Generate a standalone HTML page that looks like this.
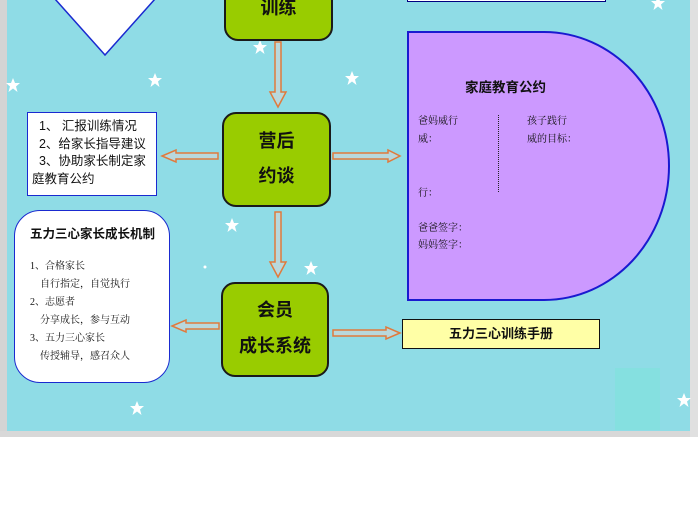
<!DOCTYPE html>
<html><head><meta charset="utf-8"><style>
body{margin:0;width:698px;height:508px;overflow:hidden;background:#fff;font-family:"Liberation Sans","Noto Sans CJK SC",sans-serif;position:relative}
.pg{position:absolute;left:7px;top:0;width:683px;height:431px;background:#8fdce6}
.gl{position:absolute;left:0;top:0;width:7px;height:437px;background:#d4d4d4}
.gb{position:absolute;left:0;top:431px;width:698px;height:6px;background:#d8d8d8}
.gr{position:absolute;left:690px;top:0;width:8px;height:437px;background:#e0e0e0}
.a{position:absolute}
.g{position:absolute;background:#99cc00;border:2px solid #1a1a1a;border-radius:14px;box-sizing:border-box;text-align:center;font-size:18px;color:#111;font-weight:600}
</style></head><body>
<div class="pg"></div><div class="gl"></div><div class="gb"></div><div class="gr"></div>
<svg class="a" style="left:0;top:0" width="698" height="508">
<defs><polygon id="st" points="0,-7 2,-2 7,-2 3,1.5 4.5,7 0,3.5 -4.5,7 -3,1.5 -7,-2 -2,-2" fill="#fff"/></defs>
<use href="#st" x="13" y="85"/><use href="#st" x="155" y="80"/><use href="#st" x="260" y="47"/><use href="#st" x="352" y="78"/>
<use href="#st" x="232" y="225"/><use href="#st" x="311" y="268"/><use href="#st" x="137" y="408"/><use href="#st" x="658" y="3"/><use href="#st" x="684" y="400"/>
<circle cx="205" cy="267" r="1.5" fill="#fff"/>
<rect x="615" y="368" width="45" height="62" fill="#85e0e0"/>
<polygon points="55,-1 155,-1 105,55" fill="#fff" stroke="#1a2ad0" stroke-width="1.5"/>
<g fill="#b8d8dc" stroke="#e07a3c" stroke-width="1.5">
<polygon points="275,42 281,42 281,92 286,92 278,107 270,92 275,92"/>
<polygon points="275,212 281,212 281,262 286,262 278,277 270,262 275,262"/>
<polygon points="218,153 218,159 176,159 176,162 162,156 176,150 176,153"/>
<polygon points="219,323 219,329 186,329 186,332 172,326 186,320 186,323"/>
<polygon points="333,153 333,159 388,159 388,162 400,156 388,150 388,153"/>
<polygon points="333,330 333,336 386,336 386,339 400,333 386,327 386,330"/>
</g>
</svg>
<div class="a" style="left:407px;top:-2px;width:197px;height:3px;border:1.5px solid #000080;border-top:none;background:#fff"></div>
<div class="g" style="left:224px;top:-20px;width:109px;height:61px;padding-top:12px">训练</div>
<div class="g" style="left:222px;top:112px;width:109px;height:95px;padding-top:10px;line-height:35px">营后<br>约谈</div>
<div class="g" style="left:221px;top:282px;width:108px;height:95px;padding-top:8px;line-height:36px">会员<br>成长系统</div>
<div class="a" style="left:27px;top:112px;width:130px;height:84px;box-sizing:border-box;border:1.5px solid #1a2ad0;background:#fff;font-size:12.5px;line-height:17.5px;padding:5px 4px;color:#111">&nbsp;&nbsp;1、 汇报训练情况<br>&nbsp;&nbsp;2、给家长指导建议<br>&nbsp;&nbsp;3、协助家长制定家庭教育公约</div>
<div class="a" style="left:14px;top:210px;width:156px;height:173px;box-sizing:border-box;border:1.5px solid #1a2ad0;border-radius:26px;background:#fff;color:#111;padding:12px 0 0 15px">
<div style="font-size:12.5px;font-weight:bold">五力三心家长成长机制</div>
<div style="font-size:10px;line-height:18px;margin-top:16px;font-family:'Liberation Serif','Noto Serif CJK SC',serif">1、合格家长<br>&nbsp;&nbsp;&nbsp;&nbsp;自行指定，自觉执行<br>2、志愿者<br>&nbsp;&nbsp;&nbsp;&nbsp;分享成长，参与互动<br>3、五力三心家长<br>&nbsp;&nbsp;&nbsp;&nbsp;传授辅导，感召众人</div></div>
<div class="a" style="left:407px;top:31px;width:263px;height:270px;box-sizing:border-box;border:2px solid #1a1ad0;border-radius:0 126px 126px 0/0 135px 135px 0;background:#cc99ff;color:#111">
<div class="a" style="left:56px;top:43px;font-size:13.5px;font-weight:bold">家庭教育公约</div>
<div class="a" style="left:9px;top:80px;font-size:10px;line-height:18px;font-family:'Liberation Serif','Noto Serif CJK SC',serif">爸妈威行<br>威：</div>
<div class="a" style="left:118px;top:80px;font-size:10px;line-height:18px;font-family:'Liberation Serif','Noto Serif CJK SC',serif">孩子践行<br>威的目标：</div>
<div class="a" style="left:9px;top:151px;font-size:10px;font-family:'Liberation Serif','Noto Serif CJK SC',serif">行：</div>
<div class="a" style="left:9px;top:187px;font-size:10px;line-height:17px;font-family:'Liberation Serif','Noto Serif CJK SC',serif">爸爸签字：<br>妈妈签字：</div>
<div class="a" style="left:89px;top:82px;height:77px;border-left:1.5px dotted #222"></div>
</div>
<div class="a" style="left:402px;top:319px;width:198px;height:30px;box-sizing:border-box;border:1.5px solid #111;background:#ffffa6;text-align:center;font-size:13px;font-weight:bold;line-height:27px;color:#111">五力三心训练手册</div>
</body></html>
